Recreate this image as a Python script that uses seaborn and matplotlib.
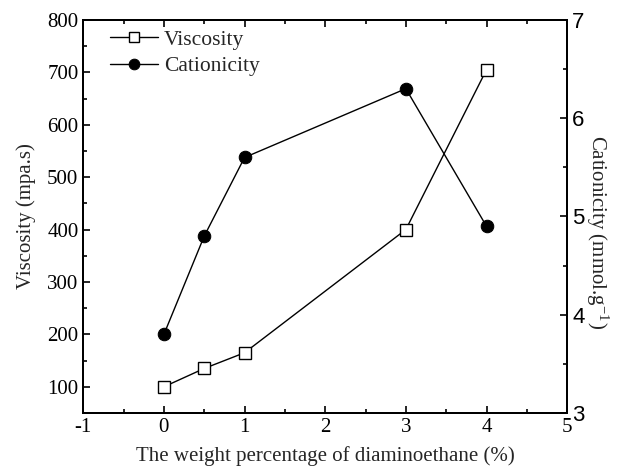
import matplotlib
matplotlib.use("Agg")
import matplotlib.pyplot as plt
import seaborn as sns
import pandas as pd
from matplotlib.ticker import MultipleLocator

x = [0, 0.5, 1, 3, 4]
viscosity = [100, 135, 165, 400, 705]
cationicity = [3.8, 4.8, 5.6, 6.3, 4.9]

sns.set_style("ticks")
plt.rcParams['font.family'] = ['Liberation Serif', 'DejaVu Serif']
plt.rcParams['mathtext.fontset'] = 'stix'
plt.rcParams['axes.unicode_minus'] = False

df = pd.DataFrame({"x": x, "v": viscosity, "c": cationicity})

fig = plt.figure(figsize=(6.26, 4.68), dpi=100)
ax = fig.add_axes([0.133, 0.1175, 0.773, 0.84])
ax2 = ax.twinx()

sns.lineplot(data=df, x="x", y="v", ax=ax, color="black", lw=1, marker="s",
             markersize=8, markerfacecolor="white", markeredgecolor="black",
             markeredgewidth=1, label="Viscosity", legend=False)
sns.lineplot(data=df, x="x", y="c", ax=ax2, color="black", lw=1, marker="o",
             markersize=9, markerfacecolor="black", markeredgecolor="black",
             label="Cationicity", legend=False)

ax.set_xlim(-1, 5)
ax.set_ylim(50, 800)
ax2.set_ylim(3, 7)
ax.xaxis.set_major_locator(MultipleLocator(1))
ax.xaxis.set_minor_locator(MultipleLocator(0.5))
ax.yaxis.set_major_locator(MultipleLocator(100))
ax.yaxis.set_minor_locator(MultipleLocator(50))
ax2.yaxis.set_major_locator(MultipleLocator(1))
ax2.yaxis.set_minor_locator(MultipleLocator(0.5))

for a in (ax, ax2):
    a.tick_params(which="both", direction="in", width=1.2, colors="black")
    a.tick_params(which="major", length=5)
    a.tick_params(which="minor", length=3)
    for s in a.spines.values():
        s.set_linewidth(1.4)
        s.set_color("black")
ax.tick_params(top=True, which="both", labelsize=15)
ax.tick_params(axis="y", right=False, which="both")
ax2.tick_params(axis="y", labelsize=16)
for lab in ax2.get_yticklabels():
    lab.set_family(["Liberation Sans", "DejaVu Sans"])

ax.set_xlabel("The weight percentage of diaminoethane (%)", fontsize=15, labelpad=7)
ax.set_ylabel("Viscosity (mpa.s)", fontsize=15, labelpad=8)
ax2.set_ylabel(r"Cationicity (mmol.g$^{\mathregular{-1}}$)", fontsize=15,
               rotation=270, labelpad=20)
ax2.yaxis.set_label_coords(1.09, 0.46)

h1, l1 = ax.get_legend_handles_labels()
h2, l2 = ax2.get_legend_handles_labels()
ax.legend(h1 + h2, l1 + l2, loc="upper left", bbox_to_anchor=(0.056, 0.975),
          frameon=False, fontsize=15.5, handlelength=2.2, handletextpad=0.3,
          labelspacing=0.3, borderaxespad=0, borderpad=0, markerscale=0.85)

fig.savefig("out.png", dpi=100)
